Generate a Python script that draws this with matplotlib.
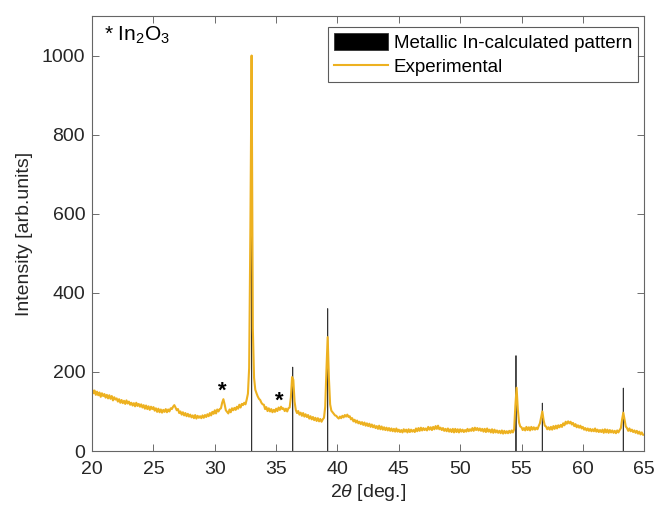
import numpy as np
import matplotlib
matplotlib.use("Agg")
import matplotlib.pyplot as plt

plt.rcParams['font.family'] = ['Liberation Sans', 'DejaVu Sans']
plt.rcParams['mathtext.fontset'] = 'custom'
plt.rcParams['mathtext.rm'] = 'Liberation Sans'
plt.rcParams['mathtext.it'] = 'Liberation Sans:italic'

# ---- data ----
two_theta_start = 20.0
two_theta_step = 0.1
intensity = [
    156, 146, 153, 142, 150, 141, 148, 137, 146, 139,   # 20
    144, 135, 142, 133, 141, 132, 139, 128, 136, 130,   # 21
    133, 125, 131, 122, 129, 121, 127, 119, 128, 120,   # 22
    125, 117, 122, 115, 121, 113, 122, 114, 119, 112,   # 23
    118, 110, 116, 107, 115, 106, 113, 104, 112, 106,   # 24
    111, 102, 108, 99, 107, 98, 105, 97, 104, 99,       # 25
    106, 98, 105, 100, 108, 106, 112, 116, 110, 103,    # 26
    106, 96, 100, 92, 98, 90, 96, 88, 94, 87,           # 27
    92, 85, 90, 83, 91, 82, 89, 84, 88, 83,             # 28
    90, 84, 91, 86, 93, 88, 96, 90, 99, 94,             # 29
    103, 95, 105, 100, 106, 108, 122, 131, 118, 103,    # 30
    99, 95, 105, 98, 108, 103, 109, 104, 112, 107,      # 31
    117, 110, 119, 116, 122, 118, 130, 145, 210, 560,   # 32
    1000, 310, 185, 155, 146, 138, 132, 129, 122, 118,  # 33
    117, 106, 111, 101, 108, 100, 106, 98, 104, 99,     # 34
    107, 101, 110, 104, 112, 106, 108, 101, 107, 100,   # 35
    108, 110, 135, 187, 180, 125, 104, 96, 101, 92,     # 36
    97, 89, 96, 87, 93, 86, 91, 82, 88, 80,             # 37
    86, 78, 84, 76, 83, 75, 81, 74, 80, 84,             # 38
    112, 205, 288, 185, 118, 102, 98, 94, 90, 89,       # 39
    85, 82, 87, 83, 89, 85, 91, 87, 92, 86,             # 40
    88, 80, 83, 75, 79, 72, 77, 70, 74, 68,             # 41
    73, 66, 72, 64, 70, 63, 69, 61, 67, 60,             # 42
    65, 58, 63, 56, 64, 55, 62, 54, 60, 53,             # 43
    59, 52, 58, 51, 57, 50, 56, 49, 57, 49,             # 44
    54, 48, 53, 47, 55, 49, 54, 47, 55, 48,             # 45
    54, 49, 53, 48, 57, 50, 58, 51, 59, 52,             # 46
    58, 53, 57, 52, 61, 54, 60, 53, 61, 55,             # 47
    63, 56, 64, 55, 59, 53, 58, 51, 56, 50,             # 48
    57, 49, 55, 48, 56, 47, 56, 48, 55, 47,             # 49
    55, 49, 54, 48, 53, 49, 56, 50, 55, 51,             # 50
    58, 51, 59, 53, 58, 52, 57, 51, 56, 49,             # 51
    56, 48, 57, 49, 54, 47, 55, 46, 54, 47,             # 52
    52, 46, 51, 45, 52, 44, 51, 45, 50, 45,             # 53
    51, 46, 52, 47, 55, 115, 160, 105, 72, 62,          # 54
    60, 53, 58, 52, 61, 53, 60, 52, 61, 54,             # 55
    60, 54, 59, 55, 63, 70, 85, 100, 78, 64,            # 56
    62, 55, 60, 54, 61, 54, 63, 56, 64, 57,             # 57
    65, 60, 66, 61, 70, 65, 74, 69, 75, 70,             # 58
    74, 67, 71, 63, 68, 60, 65, 59, 64, 57,             # 59
    61, 54, 58, 52, 57, 51, 56, 50, 55, 50,             # 60
    57, 49, 54, 48, 53, 48, 54, 46, 55, 47,             # 61
    54, 46, 53, 47, 52, 46, 51, 45, 52, 47,             # 62
    53, 58, 80, 97, 80, 62, 58, 51, 57, 50,             # 63
    54, 48, 52, 46, 51, 44, 49, 42, 47, 41,             # 64
    41,                                                 # 65
]
two_theta = two_theta_start + two_theta_step * np.arange(len(intensity))

stick_positions = [33.0, 36.35, 39.2, 54.55, 56.7, 63.3]
stick_heights = [1000, 212, 360, 241, 121, 159]

star_positions = [30.65, 35.25]
star_heights = [150, 127]

x_ticks = [20, 25, 30, 35, 40, 45, 50, 55, 60, 65]
y_ticks = [0, 200, 400, 600, 800, 1000]

# ---- figure ----
fig = plt.figure(figsize=(6.58, 5.11), dpi=100)
ax = fig.add_axes([0.140, 0.1174, 0.839, 0.8513])

bars = ax.bar(stick_positions, stick_heights, width=0.03, color='black',
              edgecolor='#333333', linewidth=0.6,
              label='Metallic In-calculated pattern', zorder=1)
for b in bars:
    b.set_snap(False)
line, = ax.plot(two_theta, intensity, color='#EDB120', lw=1.5,
                label='Experimental', zorder=2)

for xs, ys in zip(star_positions, star_heights):
    ax.text(xs, ys, '*', fontsize=16, fontweight='bold', ha='center',
            va='center', color='black')

ax.text(0.021, 0.955, r'* In$_2$O$_3$', transform=ax.transAxes,
        fontsize=15, ha='left', va='center', color='black')

ax.set_xlim(20, 65)
ax.set_ylim(0, 1100)
ax.set_xticks(x_ticks)
ax.set_yticks(y_ticks)
ax.tick_params(direction='in', top=True, right=True, length=5,
               width=0.6, color='#555555', labelsize=14,
               labelcolor='#262626')
ax.tick_params(axis='x', pad=7)
ax.tick_params(axis='y', pad=5)
for s in ax.spines.values():
    s.set_color('#666666')
    s.set_linewidth(0.8)

ax.set_xlabel(r'2$\it{\theta}$ [deg.]', fontsize=14, color='#262626', labelpad=3)
ax.set_ylabel('Intensity [arb.units]', fontsize=14, color='#262626', labelpad=6)

leg = ax.legend([bars, line], ['Metallic In-calculated pattern', 'Experimental'],
                loc='upper right', bbox_to_anchor=(0.988, 0.974),
                fontsize=13.5, frameon=True, fancybox=False, edgecolor='#333333',
                handlelength=2.9, handleheight=1.0, labelspacing=0.3,
                borderpad=0.3, handletextpad=0.3, borderaxespad=0)
leg.get_frame().set_linewidth(0.8)

fig.savefig('out.png', dpi=100)
